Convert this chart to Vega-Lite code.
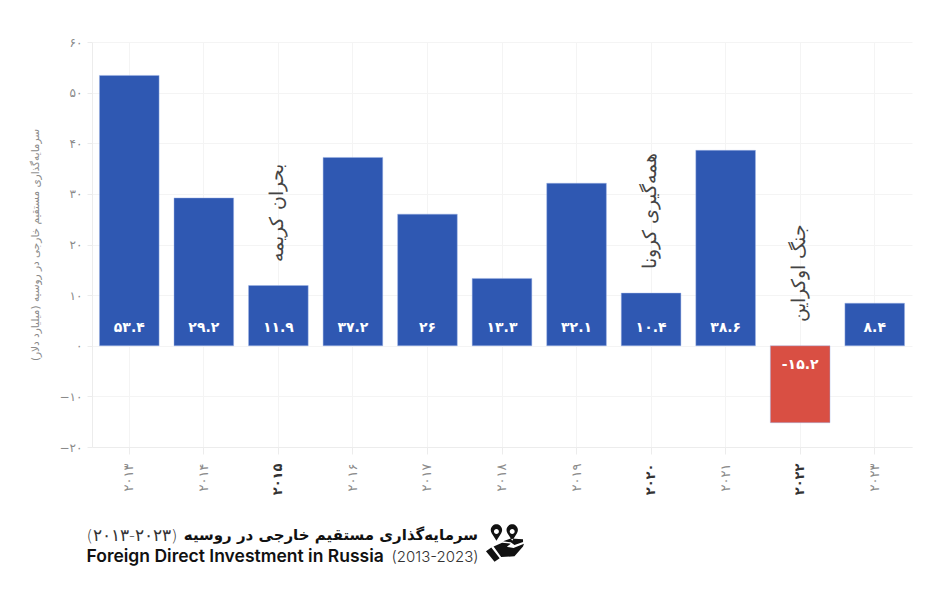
{
"$schema":"https://vega.github.io/schema/vega-lite/v6.json",
"width":820,"height":405,
"autosize":{"type":"none"},
"padding":{"left":92,"top":42,"right":28,"bottom":149},
"background":"white",
"config":{"view":{"stroke":null},"font":"DejaVu Sans","scale":{"bandPaddingInner":0.2,"bandPaddingOuter":0.1}},
"title":{"text":"سرمایه‌گذاری مستقیم خارجی در روسیه","orient":"bottom","anchor":"end","align":"right","frame":"group","font":"DejaVu Sans","fontSize":15,"fontWeight":"bold","color":"#111111","dx":-434,"offset":-37},
"datasets":{
"fdi":[
{"year":"۲۰۱۳","value":53.4,"label":"۵۳.۴"},
{"year":"۲۰۱۴","value":29.2,"label":"۲۹.۲"},
{"year":"۲۰۱۵","value":11.9,"label":"۱۱.۹"},
{"year":"۲۰۱۶","value":37.2,"label":"۳۷.۲"},
{"year":"۲۰۱۷","value":26,"label":"۲۶"},
{"year":"۲۰۱۸","value":13.3,"label":"۱۳.۳"},
{"year":"۲۰۱۹","value":32.1,"label":"۳۲.۱"},
{"year":"۲۰۲۰","value":10.4,"label":"۱۰.۴"},
{"year":"۲۰۲۱","value":38.6,"label":"۳۸.۶"},
{"year":"۲۰۲۲","value":-15.2,"label":"-۱۵.۲"},
{"year":"۲۰۲۳","value":8.4,"label":"۸.۴"}
],
"notes":[
{"year":"۲۰۱۵","top":11.9,"note":"بحران کریمه"},
{"year":"۲۰۲۰","top":10.4,"note":"همه‌گیری کرونا"},
{"year":"۲۰۲۲","top":0,"note":"جنگ اوکراین"}
],
"icon":[{"year":"۲۰۱۸","level":-38.9}]
},
"resolve":{"axis":{"x":"independent"}},
"layer":[
{
"data":{"name":"fdi"},
"mark":{"type":"bar","strokeWidth":1,"strokeOpacity":0.45,"stroke":"#9db4e6"},
"encoding":{
"x":{"field":"year","type":"nominal","sort":null,"scale":{"paddingInner":0.2,"paddingOuter":0.1},
"axis":{"orient":"bottom","title":"Foreign Direct Investment in Russia","titleFont":"Inter","titleFontSize":17.5,"titleFontWeight":600,"titleColor":"#111111","titleX":-6,"titleY":109,"titleBaseline":"middle","titleAlign":"left","titleAnchor":"start","labelAngle":270,"labelAlign":"right","labelBaseline":"middle","labelPadding":9,"labelFontSize":13,"labelColor":{"condition":{"test":"indexof(['۲۰۱۵','۲۰۲۰','۲۰۲۲'],datum.value)>=0","value":"#333333"},"value":"#8a8a8a"},"labelFontWeight":{"condition":{"test":"indexof(['۲۰۱۵','۲۰۲۰','۲۰۲۲'],datum.value)>=0","value":"bold"},"value":"normal"},"grid":true,"gridColor":"#f4f4f4","tickColor":"#ececec","tickSize":7,"domainColor":"#ececec","zindex":0}},
"y":{"field":"value","type":"quantitative","scale":{"domain":[-20,60],"nice":false},
"axis":{"title":"سرمایه‌گذاری مستقیم خارجی در روسیه (میلیارد دلار)","titleFontSize":10.5,"titleFontWeight":"normal","titleColor":"#8a8a8a","titleX":-52,"values":[-20,-10,0,10,20,30,40,50,60],"labelOverlap":false,"labelExpr":"replace(replace(replace(replace(replace(replace(replace(datum.label,/0/g,'۰'),/1/g,'۱'),/2/g,'۲'),/3/g,'۳'),/4/g,'۴'),/5/g,'۵'),/6/g,'۶')","labelFontSize":12,"labelColor":"#8a8a8a","labelPadding":5,"grid":true,"gridColor":"#f4f4f4","tickColor":"#ececec","tickSize":5,"domainColor":"#ececec"}},
"color":{"condition":{"test":"datum.value<0","value":"#d94f43"},"value":"#2f58b2"}
}
},
{
"data":{"name":"fdi"},
"transform":[{"filter":"datum.value>=0"}],
"mark":{"type":"text","font":"DejaVu Sans","fontWeight":"bold","fontSize":14,"color":"white","dy":-18,"baseline":"middle"},
"encoding":{
"x":{"field":"year","type":"nominal","sort":null,
"axis":{"orient":"bottom","title":"(2013-2023)","titleFont":"Inter","titleFontSize":15,"titleFontWeight":300,"titleColor":"#333333","titleX":386,"titleY":109,"titleBaseline":"middle","titleAlign":"right","labels":false,"ticks":false,"domain":false,"grid":false}},
"y":{"datum":0,"type":"quantitative"},
"text":{"field":"label"}
}
},
{
"data":{"name":"fdi"},
"transform":[{"filter":"datum.value<0"}],
"mark":{"type":"text","font":"DejaVu Sans","fontWeight":"bold","fontSize":14,"color":"white","dy":19,"baseline":"middle"},
"encoding":{
"x":{"field":"year","type":"nominal","sort":null,
"axis":{"orient":"bottom","title":"(۲۰۱۳-۲۰۲۳)","titleFont":"DejaVu Sans","titleFontSize":16.5,"titleFontWeight":300,"titleColor":"#333333","titleX":-6,"titleY":88,"titleBaseline":"middle","titleAlign":"left","labels":false,"ticks":false,"domain":false,"grid":false}},
"y":{"datum":0,"type":"quantitative"},
"text":{"field":"label"}
}
},
{
"data":{"name":"notes"},
"mark":{"type":"text","font":"DejaVu Sans","fontWeight":200,"fontSize":19,"angle":270,"align":"left","baseline":"middle","dx":24,"dy":-1,"color":"#444444"},
"encoding":{
"x":{"field":"year","type":"nominal","sort":null,"axis":null},
"y":{"field":"top","type":"quantitative"},
"text":{"field":"note"}
}
},
{
"data":{"name":"icon"},
"mark":{"type":"point","filled":true,"clip":false,"color":"#111111","opacity":1,"size":1444,
"shape":"M-0.45,-0.1 L-0.7,-0.5 A0.3,0.3 0 1 1 -0.2,-0.5 Z M-0.45,-0.72 A0.13,0.13 0 1 0 -0.45,-0.46 A0.13,0.13 0 1 0 -0.45,-0.72 Z M0.38,-0.1 L0.13,-0.5 A0.3,0.3 0 1 1 0.63,-0.5 Z M0.38,-0.72 A0.13,0.13 0 1 0 0.38,-0.46 A0.13,0.13 0 1 0 0.38,-0.72 Z M-1,0.45 L-0.72,0.25 L-0.28,0.82 L-0.55,1 Z M-0.6,0.2 L-0.15,0 L0.3,0.05 L0.1,0.22 L0.45,0.28 L1,0.05 L0.95,0.2 L0.5,0.72 L-0.2,0.75 Z M-0.1,-0.08 L0.3,-0.02 L0.5,0.12 L0.95,-0.03 L0.95,-0.18 L0.3,-0.22 Z"},
"encoding":{
"x":{"field":"year","type":"nominal","sort":null,"axis":null,"bandPosition":0.55},
"y":{"field":"level","type":"quantitative"}
}
}
]
}
